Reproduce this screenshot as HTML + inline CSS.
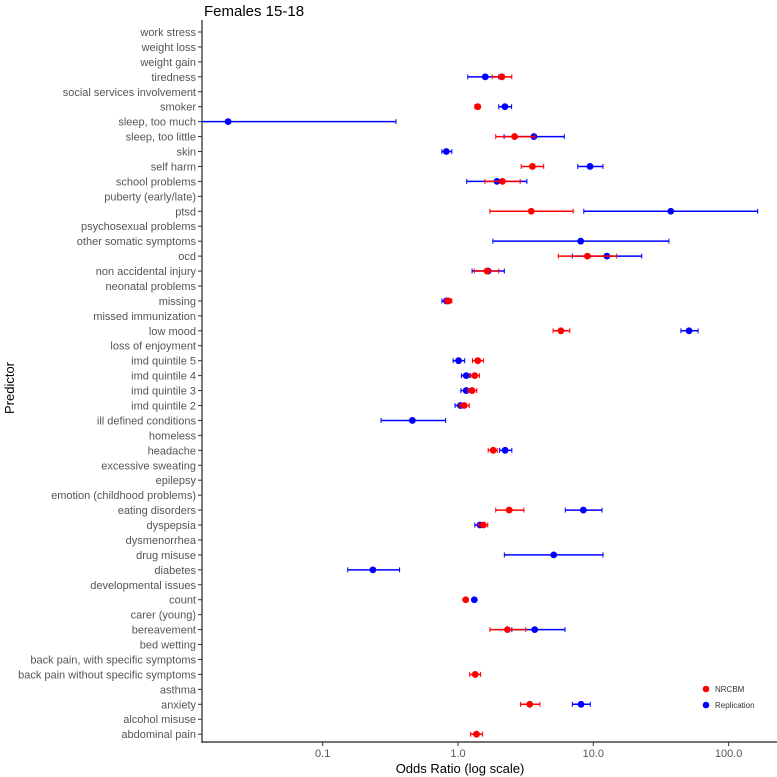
<!DOCTYPE html>
<html><head><meta charset="utf-8"><style>
html,body{margin:0;padding:0;background:#fff;}
svg{display:block;font-family:"Liberation Sans",Arial,sans-serif;}
</style></head><body>
<svg id="chart" width="777" height="777" viewBox="0 0 777 777">
<defs><clipPath id="plotclip"><rect x="202" y="20" width="575" height="722"/></clipPath></defs>
<text x="204" y="16" font-size="15" fill="#000">Females 15-18</text>
<g id="yaxis"></g>
<g id="xaxis"></g>
<g id="marks" clip-path="url(#plotclip)"></g>
<text x="0" y="0" transform="translate(14,388) rotate(-90)" text-anchor="middle" font-size="13" fill="#000">Predictor</text>
<text x="460" y="773" text-anchor="middle" font-size="13" fill="#000">Odds Ratio (log scale)</text>
<g>
<g><circle cx="706" cy="689" r="3.3" fill="#ff0000"/><text x="715" y="692" font-size="8" fill="#333">NRCBM</text></g>
<g><circle cx="706" cy="705" r="3.3" fill="#0000ff"/><text x="715" y="708" font-size="8" fill="#333">Replication</text></g>
</g>
</svg>
<script>
const predictors = ["work stress","weight loss","weight gain","tiredness","social services involvement","smoker","sleep, too much","sleep, too little","skin","self harm","school problems","puberty (early/late)","ptsd","psychosexual problems","other somatic symptoms","ocd","non accidental injury","neonatal problems","missing","missed immunization","low mood","loss of enjoyment","imd quintile 5","imd quintile 4","imd quintile 3","imd quintile 2","ill defined conditions","homeless","headache","excessive sweating","epilepsy","emotion (childhood problems)","eating disorders","dyspepsia","dysmenorrhea","drug misuse","diabetes","developmental issues","count","carer (young)","bereavement","bed wetting","back pain, with specific symptoms","back pain without specific symptoms","asthma","anxiety","alcohol misuse","abdominal pain"];
const xTicks = [0.1, 1, 10, 100];
const xTickLabels = ["0.1","1.0","10.0","100.0"];
const N = null;
const nrcbmOR = [N,N,N,2.11,N,1.40,N,2.62,N,3.55,2.13,N,3.48,N,N,9.05,1.64,N,0.85,N,5.76,N,1.40,1.33,1.27,1.11,N,N,1.82,N,N,N,2.39,1.54,N,N,N,N,1.14,N,2.32,N,N,1.34,N,3.39,N,1.37];
const nrcbmLo = [N,N,N,1.79,N,1.33,N,1.90,N,2.93,1.58,N,1.72,N,N,5.51,1.32,N,0.80,N,5.04,N,1.28,1.22,1.18,1.02,N,N,1.67,N,N,N,1.90,1.41,N,N,N,N,1.12,N,1.72,N,N,1.22,N,2.90,N,1.24];
const nrcbmHi = [N,N,N,2.50,N,1.45,N,3.71,N,4.30,2.88,N,7.10,N,N,14.9,2.00,N,0.90,N,6.70,N,1.54,1.44,1.38,1.21,N,N,1.95,N,N,N,3.07,1.66,N,N,N,N,1.16,N,3.17,N,N,1.47,N,4.03,N,1.52];
const replOR = [N,N,N,1.59,N,2.22,0.020,3.64,0.82,9.46,1.94,N,37.4,N,8.07,12.6,1.67,N,0.82,N,51.0,N,1.01,1.15,1.15,1.04,0.46,N,2.23,N,N,N,8.44,1.45,N,5.10,0.235,N,1.32,N,3.69,N,N,N,N,8.12,N,N];
const replLo = [N,N,N,1.18,N,2.00,0.005,2.19,0.76,7.67,1.16,N,8.50,N,1.81,7.00,1.27,N,0.76,N,44.4,N,0.92,1.06,1.05,0.95,0.27,N,2.03,N,N,N,6.21,1.33,N,2.20,0.153,N,1.30,N,2.50,N,N,N,N,7.00,N,N];
const replHi = [N,N,N,2.00,N,2.49,0.348,6.10,0.90,11.8,3.23,N,164,N,36.2,22.8,2.20,N,0.87,N,59.5,N,1.12,1.24,1.22,1.13,0.81,N,2.50,N,N,N,11.6,1.59,N,11.8,0.37,N,1.34,N,6.18,N,N,N,N,9.50,N,N];

const NS = "http://www.w3.org/2000/svg";
const X0 = 458, DEC = 135.3;
function xScale(v){ return X0 + Math.log10(v) * DEC; }
function yScale(i){ return 32 + i * 14.94; }
function mk(tag, attrs, parent){ const e = document.createElementNS(NS, tag); for (const k in attrs) e.setAttribute(k, attrs[k]); parent.appendChild(e); return e; }

const yaxis = document.getElementById("yaxis");
const xaxis = document.getElementById("xaxis");
const marks = document.getElementById("marks");

mk("line", {x1:202, y1:20, x2:202, y2:743, stroke:"#222", "stroke-width":1.2}, yaxis);
predictors.forEach((p, i) => {
  const y = yScale(i);
  const t = mk("line", {x1:198, y1:y, x2:202, y2:y, stroke:"#333", "stroke-width":1}, yaxis);
  
  
  const l = mk("text", {x:196, y:y+4, "text-anchor":"end", "font-size":11, fill:"#555"}, yaxis);
  l.textContent = p;
  
  
});

mk("line", {x1:202, y1:742, x2:777, y2:742, stroke:"#222", "stroke-width":1.2}, xaxis);
xTicks.forEach((v, i) => {
  const x = xScale(v);
  const t = mk("line", {x1:x, y1:742, x2:x, y2:746, stroke:"#333", "stroke-width":1}, xaxis);
  
  
  const l = mk("text", {x:x, y:757, "text-anchor":"middle", "font-size":11, fill:"#555"}, xaxis);
  l.textContent = xTickLabels[i];
  
  
});

function drawSeries(orA, loA, hiA, color, name){
  orA.forEach((v, i) => {
    if (v === null) return;
    const y = yScale(i);
    const g = mk("g", {}, marks);
    
    
    const lo = loA[i], hi = hiA[i];
    if (lo !== null && hi !== null) {
      const a = xScale(lo), b = xScale(hi);
      mk("line", {x1:a, y1:y, x2:b, y2:y, stroke:color, "stroke-width":1.5}, g);
      mk("line", {x1:a, y1:y-2.5, x2:a, y2:y+2.5, stroke:color, "stroke-width":1}, g);
      mk("line", {x1:b, y1:y-2.5, x2:b, y2:y+2.5, stroke:color, "stroke-width":1}, g);
    }
    mk("circle", {cx:xScale(v), cy:y, r:3.4, fill:color}, g);
  });
}
drawSeries(replOR, replLo, replHi, "#0000ff", "replication");
drawSeries(nrcbmOR, nrcbmLo, nrcbmHi, "#ff0000", "nrcbm");
</script>
</body></html>
